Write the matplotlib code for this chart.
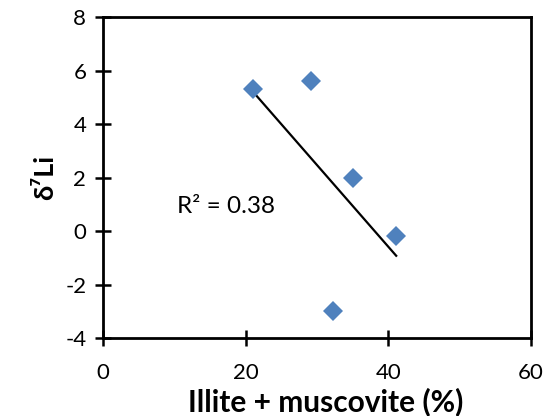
import numpy as np
import matplotlib.pyplot as plt

plt.rcParams['font.family'] = ['Lato', 'DejaVu Sans']
plt.rcParams['axes.unicode_minus'] = False

# Illite + muscovite (%) vs d7Li
illite = [21.0, 29.2, 35.1, 41.1, 32.2]
d7li = [5.3, 5.6, 2.0, -0.2, -3.0]

x_ticks = [0, 20, 40, 60]
y_ticks = [-4, -2, 0, 2, 4, 6, 8]

fig = plt.figure(figsize=(5.47, 4.16), dpi=100)
ax = fig.add_axes([0.1883, 0.1875, 0.7825, 0.7716])

ax.plot(illite, d7li, 'D', color='#4F81BD', markersize=10.5, markeredgewidth=0, zorder=3)

# linear trendline over the data range
slope, icpt = np.polyfit(illite, d7li, 1)
xs = np.array([min(illite), max(illite)])
ax.plot(xs, slope * xs + icpt, color='black', lw=1.6)
r2 = np.corrcoef(illite, d7li)[0, 1] ** 2
ax.text(17.3, 0.93, 'R² = %.2f' % r2, fontsize=17.5, ha='center', va='center')

ax.set_xlim(0, 60)
ax.set_ylim(-4, 8)
ax.set_xticks(x_ticks)
ax.set_yticks(y_ticks)
ax.tick_params(direction='inout', length=12, width=1.8, labelsize=16)
ax.tick_params(axis='x', pad=12)
ax.tick_params(axis='y', pad=6)
for s in ax.spines.values():
    s.set_linewidth(2)

ax.set_xlabel('Illite + muscovite (%)', fontsize=21.5, fontweight='bold', va='top')
ax.xaxis.set_label_coords(0.52, -0.152)
ax.set_ylabel('δ⁷Li', fontsize=19.5, fontweight='bold', labelpad=6)

fig.savefig('out.png', dpi=100)
